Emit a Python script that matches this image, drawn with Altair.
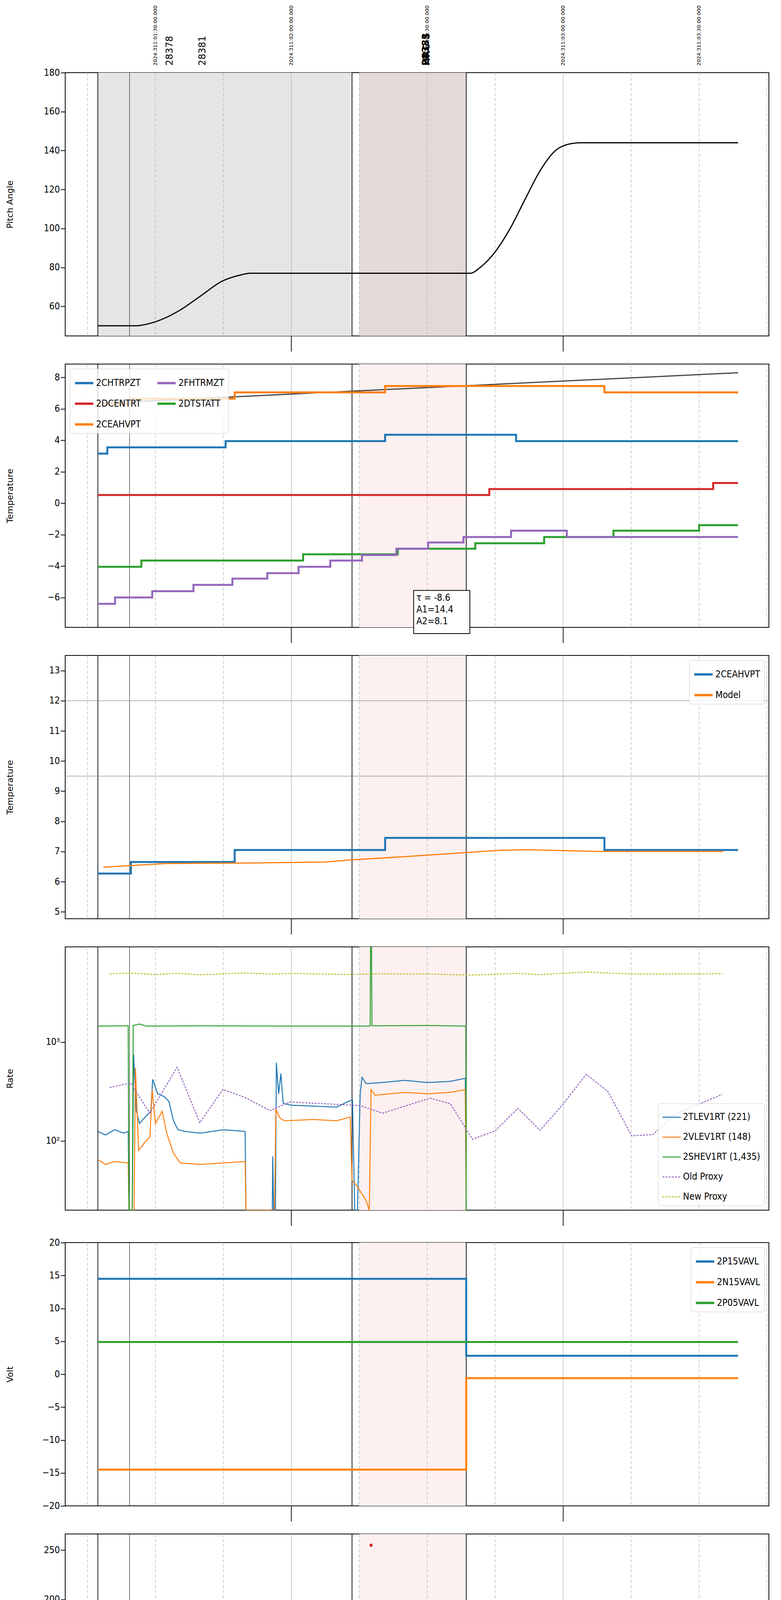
import altair as alt
import pandas as pd

# time axis: minutes after 20:00 on 2024-11-06 (DOY 311)
XMIN, XMAX = 10.1, 165.4
W, H = 1802, 674

grid_major = [60, 120]
grid_minor = [15, 30, 45, 75, 90, 105, 135, 150, 165]
obs_bold = [17.3, 73.4, 98.6]
obs_thin = [24.3]
gray_span = [17.3, 73.4]
pink_span = [75.0, 98.6]

stamp_t = [30, 60, 90, 120, 150]
stamp_txt = ["2024:311:01:30:00.000", "2024:311:02:00:00.000", "2024:311:02:30:00.000",
             "2024:311:03:00:00.000", "2024:311:03:30:00.000"]
obsid_t = [33.2, 40.4]
obsid_txt = ["28378", "28381"]
obsid_bold_t = [89.7, 89.9]
obsid_bold_txt = ["28383", "HRC-S"]

pitch_t = [17.3, 25.4, 29.9, 35.4, 39.8, 44.8, 48.6, 50.9, 99.5, 101.7, 105.0, 108.3, 111.6, 115.0, 118.3, 121.6, 123.8, 158.6]
pitch_v = [50, 50, 52, 58, 65, 73, 76, 77, 77, 80, 88, 100, 115, 130, 140, 143.5, 144, 144]

temp_series = {
    "2CHTRPZT": [(17.3, 3.15), (19.4, 3.55), (45.5, 3.95), (80.7, 4.35), (109.6, 3.95), (158.6, 3.95)],
    "2CEAHVPT": [(17.3, 6.3), (24.6, 6.65), (47.5, 7.05), (80.7, 7.45), (129.1, 7.05), (158.6, 7.05)],
    "2DTSTATT": [(17.3, -4.05), (26.9, -3.65), (62.6, -3.25), (83.5, -2.9), (100.6, -2.55), (115.8, -2.15),
                 (131.1, -1.75), (150.0, -1.4), (158.6, -1.4)],
    "2DCENTRT": [(17.3, 0.52), (103.7, 0.9), (153.1, 1.28), (158.6, 1.28)],
    "2FHTRMZT": [(17.3, -6.4), (21.1, -6.0), (29.3, -5.6), (38.4, -5.2), (47.0, -4.8), (54.7, -4.45), (61.6, -4.05),
                 (68.6, -3.65), (75.6, -3.3), (83.2, -2.9), (90.2, -2.5), (98.0, -2.15), (108.5, -1.75),
                 (120.8, -2.15), (158.6, -2.15)],
}
temp_order = ["2CHTRPZT", "2DCENTRT", "2CEAHVPT", "2FHTRMZT", "2DTSTATT"]
temp_colors = ["#1f77b4", "#d62728", "#ff7f0e", "#9467bd", "#2ca02c"]
fit_t = [17.3, 158.6]
fit_v = [6.35, 8.3]

ceahvpt = [(17.3, 6.27), (24.6, 6.65), (47.5, 7.05), (80.7, 7.45), (129.1, 7.05), (158.6, 7.05)]
model = [(18.5, 6.48), (32.1, 6.6), (50.9, 6.62), (67.4, 6.65), (73.0, 6.72), (84.0, 6.82), (95.1, 6.93),
         (106.1, 7.04), (111.6, 7.06), (128.2, 7.0), (155.3, 7.0)]
limits3 = [12.0, 9.5]

rate_series = {
    "2TLEV1RT (221)": [(17.3, 125), (19, 115), (21, 130), (23, 120), (24.0, 125), (24.2, 20), (24.9, 20), (25.2, 750),
                       (25.8, 200), (26.5, 150), (28, 180), (29.0, 200), (29.4, 420), (30.5, 300), (32, 280), (33, 250),
                       (34, 160), (35, 130), (36.5, 125), (40, 120), (45, 130), (49.8, 125), (50.0, 20), (55.8, 20),
                       (55.9, 70), (56.1, 20), (56.5, 20), (56.7, 620), (57.2, 300), (57.7, 480), (58.2, 240),
                       (60, 230), (65, 225), (70, 220), (72.5, 250), (73.5, 260), (74.0, 20), (74.6, 20), (75.2, 300),
                       (75.6, 440), (76.5, 380), (80, 390), (85, 410), (90, 390), (95, 400), (98.4, 430), (98.6, 20)],
    "2VLEV1RT (148)": [(17.3, 65), (19, 58), (21, 62), (24.0, 60), (24.2, 20), (25.3, 20), (25.6, 550), (26.3, 80),
                       (27.5, 95), (28.8, 110), (29.3, 330), (30, 150), (31.5, 200), (32.5, 120), (34, 75), (35.5, 60),
                       (40, 58), (45, 60), (49.8, 62), (50.0, 20), (56.3, 20), (56.6, 210), (57.5, 170), (58.5, 160),
                       (65, 165), (70, 160), (73, 175), (73.4, 40), (74.5, 35), (76.5, 25), (77.2, 20), (77.6, 330),
                       (78.5, 290), (85, 310), (90, 300), (95, 310), (98.4, 330), (98.6, 20)],
    "2SHEV1RT (1,435)": [(17.3, 1450), (24.0, 1460), (24.15, 20), (24.9, 20), (25.1, 1470), (26.5, 1520), (28, 1450),
                         (40, 1460), (60, 1450), (73, 1450), (77.4, 1450), (77.5, 9500), (77.7, 9500), (77.8, 1460),
                         (90, 1470), (98.5, 1450), (98.6, 20)],
    "Old Proxy": [(19.9, 347), (24.55, 385), (28.75, 191), (34.8, 556), (39.8, 153), (44.9, 332), (49.7, 276),
                  (55.3, 203), (59.7, 248), (75.2, 228), (80.1, 191), (90.6, 271), (95.1, 238), (100.0, 104),
                  (105.0, 127), (110.0, 214), (114.9, 128), (119.9, 234), (125.1, 471), (129.9, 315), (135.1, 113),
                  (139.8, 116), (144.8, 188), (155.1, 296)],
    "New Proxy": [(19.9, 4875), (24.55, 4990), (29.9, 4800), (34.8, 4950), (39.8, 4780), (49.7, 4990), (55.3, 4870),
                  (60.0, 4930), (73.0, 4820), (80.1, 4900), (90.0, 4870), (100.0, 4750), (110.0, 4940),
                  (114.9, 4800), (125.1, 5100), (135.1, 4875), (155.1, 4900)],
}
rate_colors = ["#1f77b4", "#ff7f0e", "#2ca02c", "#9467bd", "#bcbd22"]

volt_series = {
    "2P15VAVL": [(17.3, 14.5), (98.6, 2.8), (158.6, 2.8)],
    "2N15VAVL": [(17.3, -14.5), (98.6, -0.6), (158.6, -0.6)],
    "2P05VAVL": [(17.3, 4.9), (158.6, 4.9)],
}

hv_runs = {  # series: (start, end, value)
    "2IMHBLV": [(17.3, 50.0, 86)],
    "2IMHVLV": [(17.3, 50.0, 79)],
    "2SPHBLV": [(56.4, 98.6, 77)],
    "2SPHVLV": [(56.4, 98.6, 70)],
}
hv_points = {
    "2SPHBLV": [(53.0, 118), (53.1, 104), (53.5, 102), (54.0, 97), (54.6, 92), (55.4, 87), (55.9, 81), (56.4, 77), (98.6, 77)],
    "2SPHVLV": [(53.0, 127), (53.0, 125), (53.1, 98), (53.6, 95), (54.2, 90), (54.8, 85), (55.3, 80), (55.8, 75),
                (56.4, 70), (58.0, 127), (58.6, 127), (61.3, 127), (62.8, 127), (64.7, 127), (66.8, 127), (98.6, 70)],
    "2IMHVLV": [(17.3, 79), (50.0, 79)],
    "2IMHBLV": [(17.3, 86), (27.9, 87), (50.0, 86), (77.6, 255)],
}
hv_order = ["2SPHBLV", "2SPHVLV", "2IMHVLV", "2IMHBLV"]

det_series = {
    "2SPINATM": [(17.3, 2.2), (24.3, -1), (24.8, 2.2), (39.8, 2.2), (40.4, 2.6), (41, 2.3), (42.6, 2.7), (57.5, -1),
                 (58.8, 2.7), (60.6, -1), (61.5, 2.7), (63.2, -1), (64, 2.7), (64.5, -1), (66.3, 2.7), (67.4, -1),
                 (68, 2.7), (69.4, -1), (71.8, 2.7), (75.0, -1), (77.2, 2.7), (98.4, 2.7)],
    "2SPHVATM": [(17.3, 14.0), (24.2, 14.0), (24.4, -1), (24.7, 14.0), (31.5, 14.3), (31.8, 14.0), (33.7, 14.3),
                 (57.5, 8.4), (58.0, 14.6), (60.6, 8.4), (61.2, 14.6), (62.6, 8.4), (63.3, 14.6), (64.2, 8.4),
                 (64.8, 14.6), (65.6, 8.4), (66.3, 15.3), (67.0, 8.4), (67.8, 15.3), (68.9, 8.4), (69.7, 15.3),
                 (70.4, 8.4), (71.0, 15.7), (72.6, 0.5), (73.0, 15.7), (74.3, 16.0), (75.0, 8.4), (75.8, 16.0),
                 (76.7, 8.4), (77.5, 16.0), (78.5, 8.4), (78.9, 16.3), (83.8, 16.7), (89.5, 17.0), (96.0, 17.4),
                 (98.4, 15.0), (98.6, 15.0)],
    "2IMINATM": [(17.3, 0.8), (24.3, 5.2), (24.7, 0.8), (57.5, 2.7), (58.8, 0.8), (60.6, 2.7), (61.5, 0.8),
                 (62.5, 2.7), (63.2, 0.8), (63.8, 2.7), (66.3, 0.8), (67.4, 2.7), (68, 0.8), (69.4, 2.7),
                 (71.8, 0.8), (72.3, -1), (72.8, 0.8), (75.0, 2.7), (77.2, 0.8), (98.4, 0.8)],
    "2IMHVATM": [(17.3, 14.3), (18.5, 14.6), (24.3, 18), (24.8, 14.6), (27.7, 14.6), (28.0, 15.0), (28.3, 14.6),
                 (28.8, 15.0), (38.1, 15.3), (49.4, 15.6), (54.2, 15.3), (57.5, 14.3), (58.0, 15.3), (60.6, 14.5),
                 (61.2, 15.2), (62.8, 15.0), (77.3, 18), (77.8, 14.7), (78.4, 16.0), (78.6, 14.7), (96.4, 15.0),
                 (98.3, -1), (98.4, 18), (98.8, -1), (99.0, 18), (99.4, -1)],
}

fea_series = {
    "2FHTRMZT": [(17.3, -6.4), (21.1, -6.0), (29.3, -5.6), (38.4, -5.2), (47.0, -4.8), (54.7, -4.45), (61.9, -4.05),
                 (68.6, -3.65), (77.4, -3.3), (83.2, -2.9), (90.2, -2.5), (98.0, -2.15), (108.5, -1.75),
                 (120.8, -2.15), (158.6, -2.15)],
    "2FRADPYT": [(17.3, -8.8), (20.4, -8.4), (30.0, -8.0), (40.4, -7.6), (46.2, -7.2), (49.9, -6.8), (53.8, -6.4),
                 (57.5, -6.0), (62.1, -5.6), (67.2, -5.2), (73.4, -4.8), (78.5, -4.4), (84.7, -4.0), (91.6, -3.65),
                 (98.9, -3.25), (114.6, -3.65), (121.2, -4.05), (134.2, -4.4), (158.6, -4.4)],
    "2FEPRATM": [(17.3, -4.8), (21.1, -4.4), (29.1, -3.95), (37.6, -3.55), (46.7, -3.1), (55.4, -2.7), (57.8, -6.05),
                 (58.3, -2.7), (61.0, -6.05), (61.5, -2.3), (62.7, -6.05), (63.3, -2.3), (64.2, -6.05), (64.8, -2.3),
                 (66.4, -6.05), (67.0, -2.3), (69.0, -6.05), (69.6, -2.3), (70.6, -6.05), (71.2, -2.3),
                 (72.4, -6.05), (73.4, -1.85), (75.0, -6.05), (76.5, -1.85), (77.0, -6.05), (77.5, -1.85),
                 (79.8, -1.45), (88.2, -1.0), (96.2, -0.45), (98.6, -2.1)],
    "2FE00ATM": [(17.3, -6.75), (20.8, -6.4), (21.1, -6.75), (23.0, -6.4), (24.3, 0), (24.8, -6.4), (29.5, -6.05),
                 (36.5, -5.7), (43.1, -5.35), (48.6, -6.8), (48.9, -5.35), (49.5, -5.0), (55.1, -4.7), (58.1, 0),
                 (58.6, -4.7), (60.8, 0), (61.4, -4.4), (62.3, 0), (62.8, -4.4), (63.6, 0), (64.2, -4.4), (65, 0),
                 (65.6, -4.4), (66.3, 0), (67, -4.0), (67.8, 0), (68.5, -4.0), (69.3, 0), (70.2, -4.0), (70.7, 0),
                 (71.5, -3.65), (72.2, 0), (72.6, -9.6), (73.2, -3.65), (75, 0), (75.6, -3.65), (76.5, 0),
                 (77.2, -3.3), (77.6, -9.6), (78.2, -3.3), (78.5, 0), (79.2, -3.3), (79.6, -4.0), (79.8, -3.3),
                 (82.9, -2.95), (87.9, -3.65), (88.1, -2.95), (88.8, -2.6), (95.3, -2.25), (96.2, -1.9),
                 (96.4, -2.25), (98.4, 0), (98.8, -9.6), (99.2, 0), (99.5, -9.6)],
}
tab4 = ["#1f77b4", "#ff7f0e", "#2ca02c", "#d62728"]

TICK_FONT = "DejaVu Sans Condensed, Liberation Sans Narrow, DejaVu Sans"
XS = alt.Scale(domain=[XMIN, XMAX], nice=False, zero=False)


def frame(series):
    rows = [{"s": k, "t": t, "v": v} for k, pts in series.items() for t, v in pts]
    return pd.DataFrame(rows)


def leg(orient, columns=1, stype="stroke"):
    return alt.Legend(title=None, orient=orient, columns=columns, labelFont=TICK_FONT, labelFontSize=24,
                      labelLimit=400, symbolType=stype, symbolSize=2200 if stype == "stroke" else 120,
                      symbolStrokeWidth=6, fillColor="rgba(255,255,255,0.8)", strokeColor="#cccccc", padding=10,
                      cornerRadius=4, rowPadding=14, columnPadding=30, offset=12)


def decor(dark=False, bottom=False):
    xn = alt.X("t:Q", scale=XS, axis=None)
    layers = []
    if dark:
        layers.append(alt.Chart(pd.DataFrame({"t": [gray_span[0]], "t2": [gray_span[1]]})).mark_rect(color="#e5e5e5")
                      .encode(x=xn, x2="t2:Q", y=alt.value(0), y2=alt.value(H)))
    layers.append(alt.Chart(pd.DataFrame({"t": [pink_span[0]], "t2": [pink_span[1]]}))
                  .mark_rect(color="#e3d9d9" if dark else "#fdf0f0")
                  .encode(x=xn, x2="t2:Q", y=alt.value(0), y2=alt.value(H)))
    layers.append(alt.Chart(pd.DataFrame({"t": grid_minor})).mark_rule(color="#b0b0b0", strokeWidth=1.2, strokeDash=[8, 5])
                  .encode(x=xn))
    layers.append(alt.Chart(pd.DataFrame({"t": grid_major})).mark_rule(color="#b0b0b0", strokeWidth=1.2).encode(x=xn))
    layers.append(alt.Chart(pd.DataFrame({"t": obs_bold})).mark_rule(color="black", strokeWidth=1.8).encode(x=xn))
    layers.append(alt.Chart(pd.DataFrame({"t": obs_thin})).mark_rule(color="black", strokeWidth=1).encode(x=xn))
    layers.append(alt.Chart(pd.DataFrame({"t": grid_major})).mark_rule(color="black", strokeWidth=1.8)
                  .encode(x=xn, y=alt.value(H), y2=alt.value(H + 40)))
    if bottom:
        layers.append(alt.Chart(pd.DataFrame({"t": grid_major, "lab": ["21h", "22h"]}))
                      .mark_text(font=TICK_FONT, fontSize=30, baseline="top")
                      .encode(x=xn, y=alt.value(H + 48), text="lab:N"))
    return layers


def xaxis(bottom):
    if bottom:
        return alt.X("t:Q", scale=XS, title="2024-11-06 (311)",
                     axis=alt.Axis(values=list(range(15, 166, 15)), labelExpr="datum.value % 60 == 0 ? '' : datum.value % 60",
                                   labelFont=TICK_FONT, labelFontSize=20, tickSize=10, tickWidth=1.5, grid=False,
                                   titleFont=TICK_FONT, titleFontSize=30, titleFontWeight="normal", titlePadding=60,
                                   domainColor="black", domainWidth=2, tickColor="black", labelColor="black"))
    return alt.X("t:Q", scale=XS, axis=None)


def yaxis(title, domain, values, stype="linear", fmt=None, expr=None):
    ax = dict(values=values, title=title, grid=False, labelFont=TICK_FONT, labelFontSize=24, tickSize=12,
              tickWidth=2, titleFont="DejaVu Sans", titleFontSize=22, titleFontWeight="normal", titlePadding=12,
              minExtent=118, domainColor="black", tickColor="black", labelColor="black")
    if fmt:
        ax["format"] = fmt
    if expr:
        ax["labelExpr"] = expr
    return alt.Y("v:Q", scale=alt.Scale(domain=domain, type=stype, nice=False, zero=False), axis=alt.Axis(**ax))


def panel(layers):
    return alt.layer(*layers).properties(width=W, height=H)


# Panel 1: pitch
p1_line = alt.Chart(pd.DataFrame({"t": pitch_t, "v": pitch_v})).mark_line(color="black", strokeWidth=3, interpolate="monotone").encode(
    x=xaxis(False), y=yaxis("Pitch Angle", [44.8, 180], list(range(60, 181, 20))))
lab_stamp = alt.Chart(pd.DataFrame({"t": stamp_t, "lab": stamp_txt})).mark_text(
    angle=270, align="left", baseline="middle", fontSize=13, font="DejaVu Sans").encode(
    x=alt.X("t:Q", scale=XS, axis=None), y=alt.value(-18), text="lab:N")
lab_obs = alt.Chart(pd.DataFrame({"t": obsid_t, "lab": obsid_txt})).mark_text(
    angle=270, align="left", baseline="middle", fontSize=24, font="DejaVu Sans").encode(
    x=alt.X("t:Q", scale=XS, axis=None), y=alt.value(-18), text="lab:N")
lab_obs_b = alt.Chart(pd.DataFrame({"t": obsid_bold_t, "lab": obsid_bold_txt})).mark_text(
    angle=270, align="left", baseline="middle", fontSize=24, font="DejaVu Sans", fontWeight="bold").encode(
    x=alt.X("t:Q", scale=XS, axis=None), y=alt.value(-18), text="lab:N")
chart1 = panel(decor(dark=True) + [p1_line, lab_stamp, lab_obs, lab_obs_b])

# Panel 2: temperatures
t2y = yaxis("Temperature", [-7.9, 8.85], list(range(-6, 9, 2)))
fit = alt.Chart(pd.DataFrame({"t": fit_t, "v": fit_v})).mark_line(color="#444444", strokeWidth=3).encode(x=xaxis(False), y=t2y)
t2 = alt.Chart(frame(temp_series)).mark_line(interpolate="step-after", strokeWidth=5, clip=True).encode(
    x=xaxis(False), y=t2y,
    color=alt.Color("s:N", scale=alt.Scale(domain=temp_order, range=temp_colors), legend=leg("top-left", 2)))
box = alt.Chart(pd.DataFrame({"t": [87.0], "t2": [99.4], "v": [-5.55], "v2": [-8.3]})).mark_rect(
    fill="white", stroke="black", strokeWidth=2).encode(x=alt.X("t:Q", scale=XS, axis=None), x2="t2:Q",
                                                         y=t2y, y2="v2:Q")
txt = alt.Chart(pd.DataFrame({"t": [87.6], "v": [-5.75], "lab": ["τ = -8.6\nA1=14.4\nA2=8.1"]})).mark_text(
    align="left", baseline="top", font=TICK_FONT, fontSize=24, lineBreak="\n", lineHeight=30).encode(
    x=alt.X("t:Q", scale=XS, axis=None), y=t2y, text="lab:N")
chart2 = panel(decor() + [fit, t2, box, txt])

# Panel 3: 2CEAHVPT vs model
t3y = yaxis("Temperature", [4.77, 13.5], list(range(5, 14)))
cscale3 = alt.Scale(domain=["2CEAHVPT", "Model"], range=["#1f77b4", "#ff7f0e"])
lim = alt.Chart(pd.DataFrame({"v": limits3})).mark_rule(color="#888888", strokeWidth=1.2).encode(y=t3y)
t3s = alt.Chart(frame({"2CEAHVPT": ceahvpt})).mark_line(strokeWidth=5, interpolate="step-after").encode(
    x=xaxis(False), y=t3y, color=alt.Color("s:N", scale=cscale3, legend=leg("top-right")))
t3m = alt.Chart(frame({"Model": model})).mark_line(strokeWidth=3).encode(
    x=xaxis(False), y=t3y, color=alt.Color("s:N", scale=cscale3, legend=leg("top-right")))
chart3 = panel(decor() + [lim, t3s, t3m])

# Panel 4: rates
r_names = list(rate_series.keys())
r4y = yaxis("Rate", [20, 9160], [100, 1000], stype="log", expr="datum.value == 100 ? '10²' : '10³'")
r4 = alt.Chart(frame(rate_series)).mark_line(clip=True).encode(
    x=xaxis(False), y=r4y,
    color=alt.Color("s:N", scale=alt.Scale(domain=r_names, range=rate_colors), legend=leg("bottom-right")),
    strokeDash=alt.StrokeDash("s:N", scale=alt.Scale(domain=r_names, range=[[1, 0], [1, 0], [1, 0], [5, 3], [5, 3]]),
                              legend=leg("bottom-right")),
    strokeWidth=alt.StrokeWidth("s:N", scale=alt.Scale(domain=r_names, range=[2.5, 2.5, 2.5, 1.5, 1.5]), legend=None))
chart4 = panel(decor() + [r4])

# Panel 5: volts
v5 = alt.Chart(frame(volt_series)).mark_line(interpolate="step-after", strokeWidth=5).encode(
    x=xaxis(False), y=yaxis("Volt", [-20, 20], list(range(-20, 21, 5))),
    color=alt.Color("s:N", scale=alt.Scale(domain=list(volt_series.keys()), range=tab4[:3]), legend=leg("top-right")))
chart5 = panel(decor() + [v5])

# Panel 6: HV monitor
hv_y = yaxis("HV Monitor", [0, 266.4], list(range(0, 251, 50)))
runs_df = pd.DataFrame([{"s": k, "t": a, "t2": b, "v": v} for k, r in hv_runs.items() for a, b, v in r])
hv_run = alt.Chart(runs_df).mark_rule(strokeWidth=9, strokeCap="round").encode(
    x=xaxis(False), x2="t2:Q", y=hv_y,
    color=alt.Color("s:N", scale=alt.Scale(domain=hv_order, range=tab4), legend=None))
hv_pt = alt.Chart(frame(hv_points)).mark_circle(size=70, opacity=1).encode(
    x=xaxis(False), y=hv_y,
    color=alt.Color("s:N", scale=alt.Scale(domain=hv_order, range=tab4), legend=leg("top-right", stype="circle")))
chart6 = panel(decor() + [hv_run, hv_pt])

# Panel 7: detector temps
d7 = alt.Chart(frame(det_series)).mark_line(interpolate="step-after", strokeWidth=5, clip=True).encode(
    x=xaxis(False), y=yaxis("Detector Temp", [-0.66, 17.84], [0, 2.5, 5, 7.5, 10, 12.5, 15, 17.5], fmt=".1f"),
    color=alt.Color("s:N", scale=alt.Scale(domain=list(det_series.keys()), range=tab4), legend=leg("top-right")))
chart7 = panel(decor() + [d7])

# Panel 8: FEA temps
f8 = alt.Chart(frame(fea_series)).mark_line(interpolate="step-after", strokeWidth=5, clip=True).encode(
    x=xaxis(True), y=yaxis("FEA Temp", [-9.49, -0.35], [-8, -6, -4, -2]),
    color=alt.Color("s:N", scale=alt.Scale(domain=list(fea_series.keys()), range=tab4), legend=leg("bottom-right")))
chart8 = panel(decor(bottom=True) + [f8])

chart = alt.vconcat(chart1, chart2, chart3, chart4, chart5, chart6, chart7, chart8, spacing=28).resolve_scale(
    color="independent", strokeDash="independent", strokeWidth="independent").resolve_legend(
    color="independent", strokeDash="independent").configure_view(stroke="black", strokeWidth=2).properties(
    background="white")

chart.save("out.html", embed_options={"renderer": "svg", "actions": False})
